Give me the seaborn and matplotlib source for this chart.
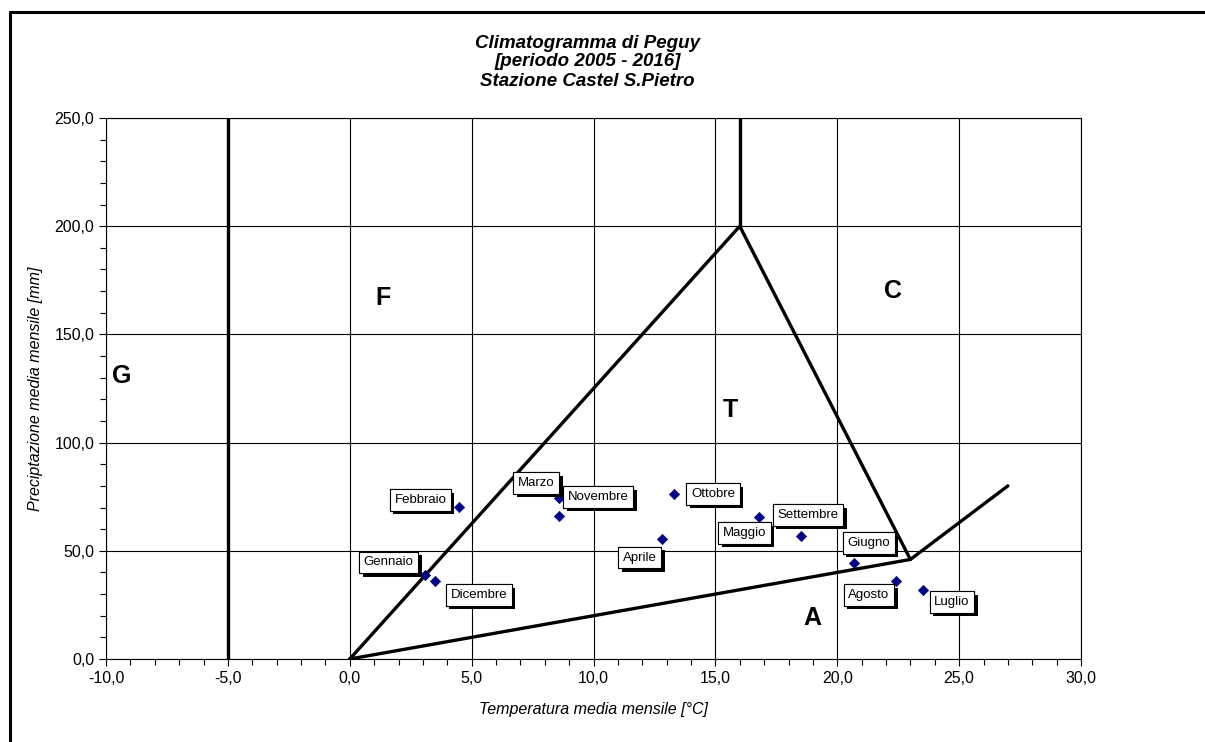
import matplotlib
matplotlib.use("Agg")
import matplotlib.pyplot as plt
import matplotlib.patheffects as pe
from matplotlib.lines import Line2D
from matplotlib.ticker import MultipleLocator, FuncFormatter
import seaborn as sns
import pandas as pd

# Monthly mean temperature [°C] and precipitation [mm], 2005-2016
months = ["Gennaio", "Febbraio", "Marzo", "Aprile", "Maggio", "Giugno",
          "Luglio", "Agosto", "Settembre", "Ottobre", "Novembre", "Dicembre"]
temperature = [3.1, 4.5, 8.6, 12.8, 16.8, 20.7, 23.5, 22.4, 18.5, 13.3, 8.6, 3.5]
precipitation = [38.8, 70.4, 74.3, 55.5, 65.8, 44.5, 31.9, 36.2, 57.0, 76.2, 66.2, 36.2]

# Label box centres for each month
label_x = [1.6, 2.9, 7.65, 11.9, 16.2, 21.3, 24.7, 21.3, 18.8, 14.9, 10.2, 5.3]
label_y = [44.6, 73.5, 81.3, 46.9, 58.2, 53.6, 26.3, 29.6, 66.5, 76.2, 74.9, 29.6]

# Peguy diagram boundaries
triangle_t = [0, 16, 23, 0]
triangle_p = [0, 200, 46, 0]
arid_t = [23, 27]
arid_p = [46, 80]
warm_t = [16, 16]
warm_p = [200, 250]
frost_t = [-5, -5]
frost_p = [0, 250]

# Climate zone letters
zone_names = ["G", "F", "T", "C", "A"]
zone_t = [-9.35, 1.35, 15.6, 22.3, 19.0]
zone_p = [131, 167, 115, 170, 19]

title_lines = ["Climatogramma di Peguy", "[periodo 2005 - 2016]", "Stazione Castel S.Pietro"]

sns.set_style("white")
plt.rcParams["font.family"] = ["Liberation Sans", "DejaVu Sans"]
plt.rcParams.update({"text.color": "black", "axes.labelcolor": "black",
                     "xtick.color": "black", "ytick.color": "black"})

fig = plt.figure(figsize=(12.05, 7.42), dpi=100)
ax = fig.add_axes([106 / 1205, 1 - 659 / 742, 975 / 1205, 541 / 742])

ax.set_xlim(-10, 30)
ax.set_ylim(0, 250)
ax.xaxis.set_major_locator(MultipleLocator(5))
ax.xaxis.set_minor_locator(MultipleLocator(1))
ax.yaxis.set_major_locator(MultipleLocator(50))
ax.yaxis.set_minor_locator(MultipleLocator(10))
fmt = FuncFormatter(lambda v, p: f"{v:.1f}".replace(".", ","))
ax.xaxis.set_major_formatter(fmt)
ax.yaxis.set_major_formatter(fmt)
ax.grid(True, which="major", color="black", lw=0.8)
ax.tick_params(which="both", direction="out", color="black", width=0.8,
               bottom=True, left=True, labelsize=11.5)
ax.tick_params(which="major", length=5)
ax.tick_params(which="minor", length=4)
for s in ax.spines.values():
    s.set_color("black")
    s.set_linewidth(0.8)

lines = [(triangle_t, triangle_p), (arid_t, arid_p), (warm_t, warm_p), (frost_t, frost_p)]
for tt, pp in lines:
    sns.lineplot(x=tt, y=pp, sort=False, estimator=None, color="black",
                 lw=2.4, ax=ax, zorder=3)

df = pd.DataFrame({"mese": months, "t": temperature, "p": precipitation})
sns.scatterplot(data=df, x="t", y="p", marker="D", s=28, color="#000080",
                edgecolor="#000080", ax=ax, zorder=4, legend=False)

for name, lx, ly in zip(months, label_x, label_y):
    txt = ax.text(lx, ly, name, ha="center", va="center", fontsize=9.5, zorder=5,
                  bbox=dict(boxstyle="square,pad=0.35", fc="white", ec="black", lw=0.8))
    txt.get_bbox_patch().set_path_effects([
        pe.withSimplePatchShadow(offset=(2.5, -2.5), shadow_rgbFace="black", alpha=1.0),
        pe.Normal()])

for name, zt, zp in zip(zone_names, zone_t, zone_p):
    ax.text(zt, zp, name, ha="center", va="center", fontsize=18,
            fontweight="bold", zorder=5)

ax.set_xlabel("Temperatura media mensile [°C]", fontsize=11.5, style="italic", labelpad=12)
ax.set_ylabel("Preciptazione media mensile [mm]", fontsize=11.5, style="italic", labelpad=8)

# Three-line title, one text per line
for i, line in enumerate(title_lines):
    fig.text(0.4875, 1 - (43 + 19 * i) / 742, line, ha="center", va="center",
             fontsize=13.5, fontweight="bold", style="italic")

# Outer frame (left and top edges)
fig.add_artist(Line2D([10 / 1205, 10 / 1205], [0, 1 - 12 / 742], color="black",
                      lw=2.2, transform=fig.transFigure))
fig.add_artist(Line2D([10 / 1205, 1], [1 - 12 / 742, 1 - 12 / 742], color="black",
                      lw=2.2, transform=fig.transFigure))

fig.savefig("out.png", dpi=100, facecolor="white")
